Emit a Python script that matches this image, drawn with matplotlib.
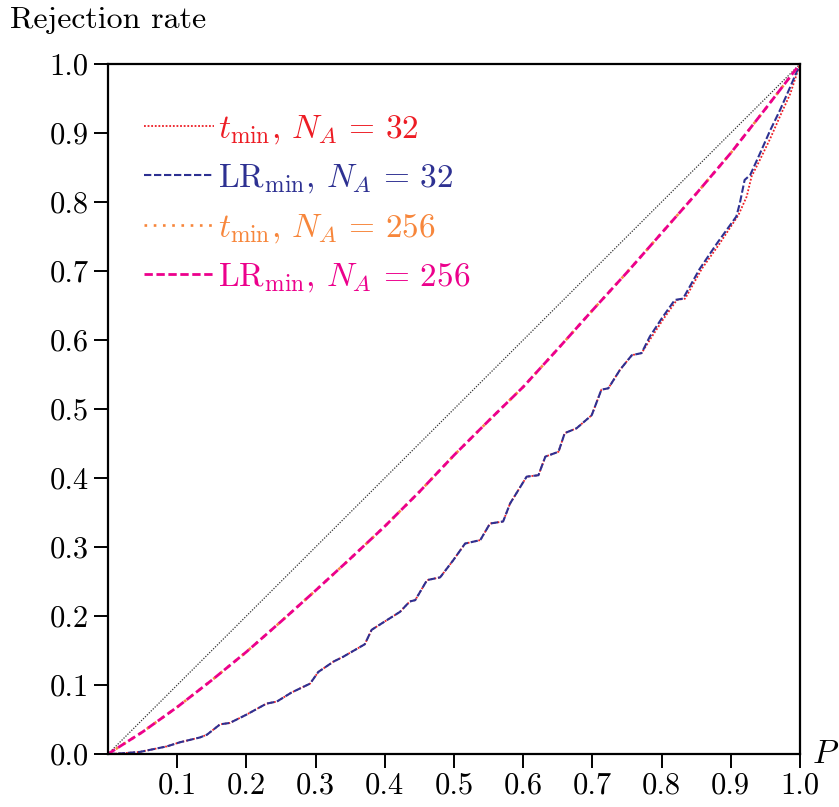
import matplotlib
matplotlib.use("Agg")
import matplotlib.pyplot as plt

plt.rcParams['font.family'] = 'serif'
plt.rcParams['font.serif'] = ['cmr10']
plt.rcParams['mathtext.fontset'] = 'cm'
plt.rcParams['axes.unicode_minus'] = False

# N_A = 32 curves
lr32_p = [0, 0.02, 0.046, 0.085, 0.104, 0.133, 0.143, 0.162, 0.176, 0.2, 0.229, 0.244, 0.265,
          0.292, 0.304, 0.326, 0.340, 0.371, 0.381, 0.403, 0.422, 0.436, 0.444, 0.461, 0.480,
          0.499, 0.516, 0.538, 0.552, 0.571, 0.581, 0.605, 0.622, 0.632, 0.651, 0.660, 0.677,
          0.699, 0.713, 0.723, 0.740, 0.757, 0.771, 0.783, 0.800, 0.819, 0.831, 0.855, 0.880,
          0.908, 0.913, 0.920, 0.928, 0.942, 0.957, 0.971, 0.986, 1.0]
lr32_r = [0, 0.001, 0.003, 0.011, 0.017, 0.024, 0.028, 0.043, 0.045, 0.057, 0.073, 0.076, 0.089,
          0.102, 0.119, 0.134, 0.141, 0.159, 0.180, 0.194, 0.206, 0.221, 0.223, 0.252, 0.256,
          0.281, 0.305, 0.310, 0.334, 0.337, 0.363, 0.402, 0.404, 0.431, 0.438, 0.465, 0.472,
          0.491, 0.528, 0.530, 0.557, 0.578, 0.581, 0.605, 0.631, 0.658, 0.660, 0.703, 0.740,
          0.779, 0.798, 0.832, 0.839, 0.870, 0.904, 0.933, 0.967, 1.0]

t32_p = [0, 0.02, 0.046, 0.085, 0.104, 0.133, 0.143, 0.162, 0.176, 0.2, 0.229, 0.244, 0.265,
         0.292, 0.304, 0.326, 0.340, 0.371, 0.381, 0.403, 0.422, 0.436, 0.444, 0.461, 0.480,
         0.499, 0.516, 0.538, 0.552, 0.571, 0.581, 0.605, 0.622, 0.632, 0.651, 0.660, 0.677,
         0.699, 0.713, 0.723, 0.740, 0.757, 0.771, 0.786, 0.803, 0.822, 0.834, 0.858, 0.884,
         0.911, 0.923, 0.930, 0.942, 0.957, 0.971, 0.986, 1.0]
t32_r = [0, 0.001, 0.003, 0.011, 0.017, 0.024, 0.028, 0.043, 0.045, 0.057, 0.073, 0.076, 0.089,
         0.102, 0.119, 0.134, 0.141, 0.159, 0.180, 0.194, 0.206, 0.221, 0.223, 0.252, 0.256,
         0.281, 0.305, 0.310, 0.334, 0.337, 0.363, 0.402, 0.404, 0.431, 0.438, 0.465, 0.472,
         0.491, 0.528, 0.530, 0.557, 0.578, 0.581, 0.605, 0.631, 0.658, 0.660, 0.703, 0.740,
         0.781, 0.808, 0.837, 0.861, 0.892, 0.924, 0.957, 1.0]

# N_A = 256 curves
p256 = [0, 0.05, 0.1, 0.15, 0.2, 0.25, 0.3, 0.35, 0.4, 0.45, 0.5,
        0.55, 0.6, 0.65, 0.7, 0.75, 0.8, 0.85, 0.9, 0.95, 1.0]
lr256 = [0, 0.032, 0.068, 0.107, 0.148, 0.192, 0.237, 0.283, 0.330, 0.380, 0.433,
         0.483, 0.532, 0.587, 0.643, 0.698, 0.755, 0.812, 0.871, 0.935, 1.0]
t256 = [0, 0.032, 0.068, 0.107, 0.148, 0.192, 0.237, 0.283, 0.330, 0.380, 0.433,
        0.483, 0.532, 0.587, 0.643, 0.698, 0.755, 0.812, 0.871, 0.935, 1.0]

xticks = [0.1, 0.2, 0.3, 0.4, 0.5, 0.6, 0.7, 0.8, 0.9, 1.0]
yticks = [0.0, 0.1, 0.2, 0.3, 0.4, 0.5, 0.6, 0.7, 0.8, 0.9, 1.0]

c_red = '#ed1c24'
c_blue = '#2e3192'
c_orange = '#f7863b'
c_pink = '#ec008c'

fig = plt.figure(figsize=(8.39, 8.07), dpi=100)
ax = fig.add_axes([108/839, 1-754/807, 692/839, 690/807])

ax.plot([0, 1], [0, 1], color='#333333', lw=0.9, linestyle=(0, (1, 1.2)))
ax.plot(t32_p, t32_r, color=c_red, lw=1.3, linestyle=(0, (1, 1)),
        label=r'$t_{\rm min}$, $N_A\,=\,32$')
ax.plot(lr32_p, lr32_r, color=c_blue, lw=1.5, linestyle=(0, (3.5, 1.3)),
        label=r'LR$_{\rm min}$, $N_A\,=\,32$')
ax.plot(p256, t256, color=c_orange, lw=1.9, linestyle=(0, (1, 2.5)),
        label=r'$t_{\rm min}$, $N_A\,=\,256$')
ax.plot(p256, lr256, color=c_pink, lw=2.0, linestyle=(0, (3, 1.3)),
        label=r'LR$_{\rm min}$, $N_A\,=\,256$')

ax.set_xlim(0, 1)
ax.set_ylim(0, 1)
ax.set_xticks(xticks)
ax.set_xticklabels(['%.1f' % v for v in xticks])
ax.set_yticks(yticks)
ax.set_yticklabels(['%.1f' % v for v in yticks])
ax.tick_params(axis='both', direction='out', length=10, width=1.4, labelsize=22)
ax.tick_params(axis='x', pad=3)
ax.tick_params(axis='y', pad=4)
for s in ax.spines.values():
    s.set_linewidth(1.6)

leg = ax.legend(loc='upper left', bbox_to_anchor=(0.008, 0.972), frameon=False,
                fontsize=24, handlelength=2.1, handletextpad=0.12, labelspacing=0.49)
for txt, col in zip(leg.get_texts(), [c_red, c_blue, c_orange, c_pink]):
    txt.set_color(col)

fig.text(10/839, 1-20/807, 'Rejection rate', fontsize=23, va='center', ha='left')
fig.text(812/839, 1-754/807, r'$P$', fontsize=24, va='center', ha='left')

fig.savefig('out.png', dpi=100)
